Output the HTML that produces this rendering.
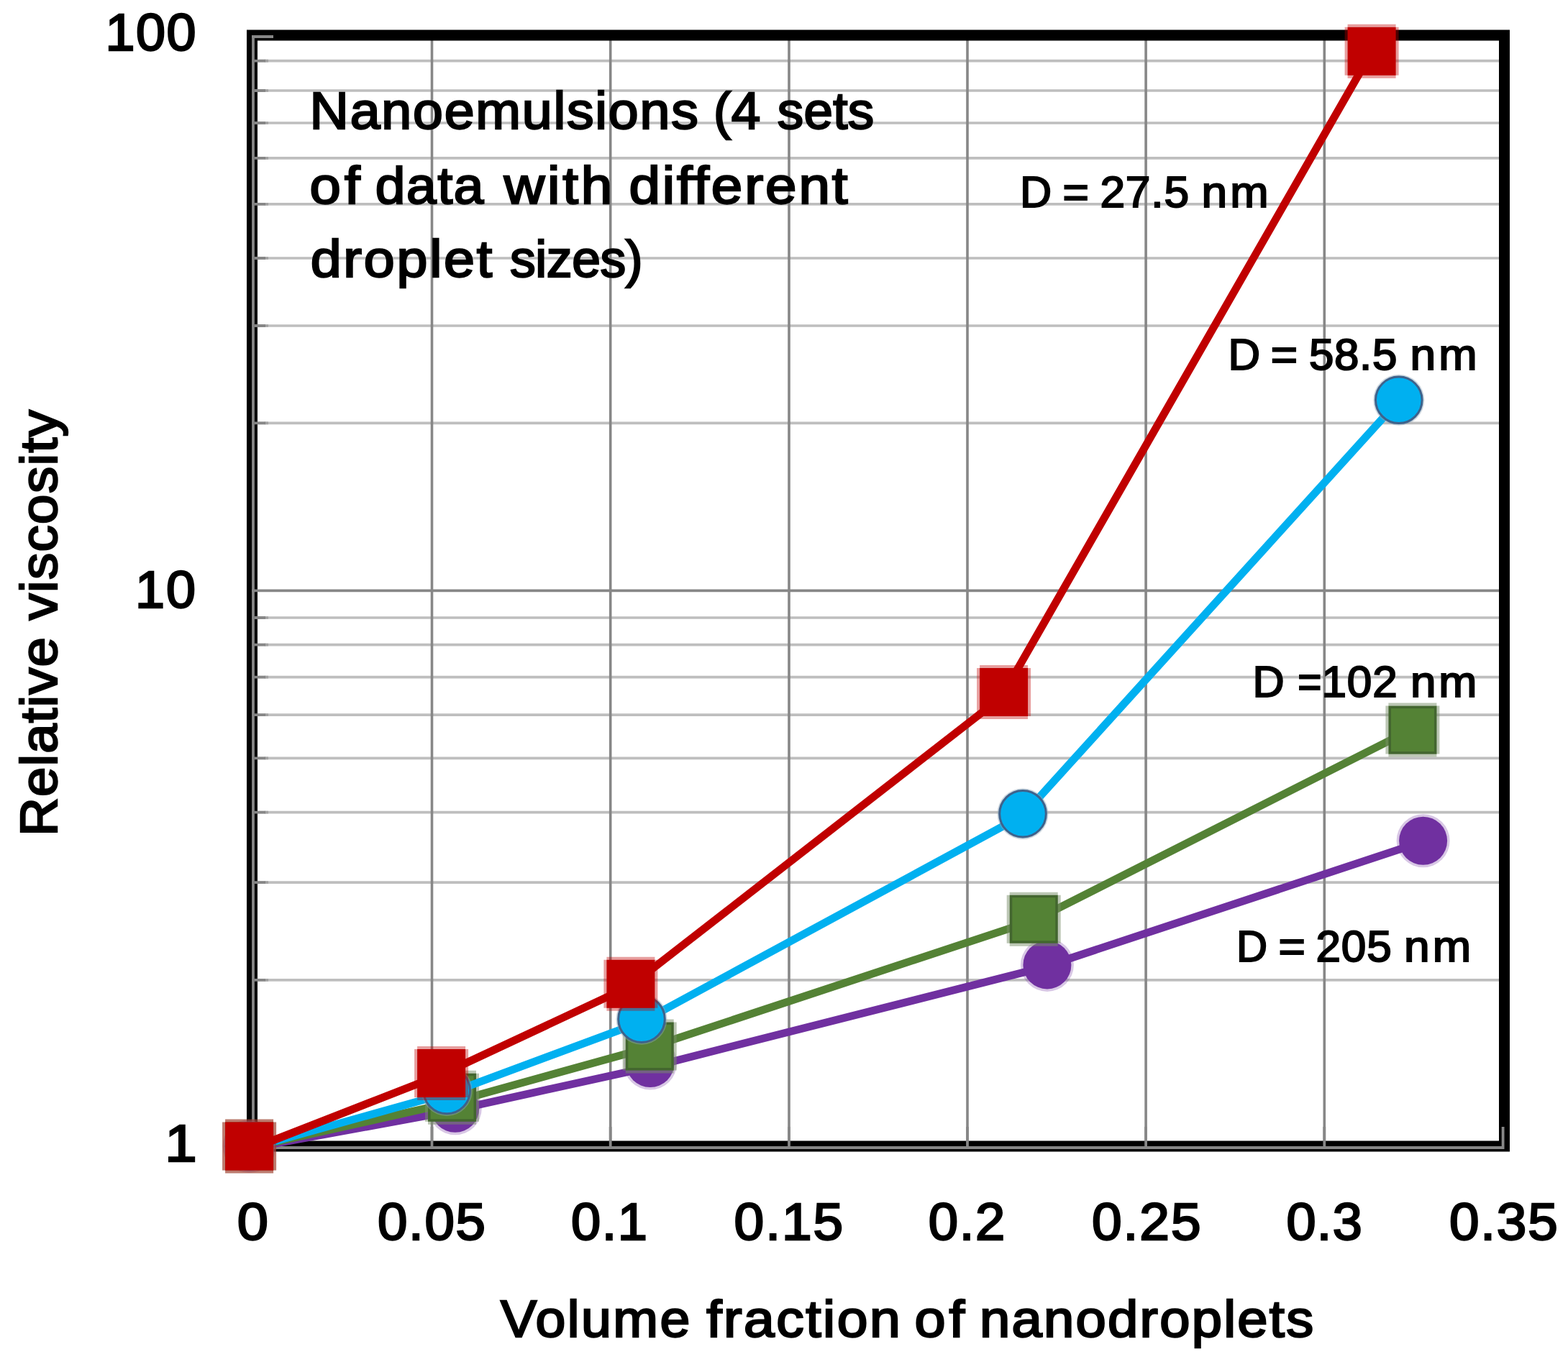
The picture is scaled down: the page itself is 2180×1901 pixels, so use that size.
<!DOCTYPE html><html><head><meta charset="utf-8"><title>Relative viscosity of nanoemulsions</title>
<style>html,body{margin:0;padding:0;background:#fff}svg{display:block}text{font-family:"Liberation Sans",Arial,sans-serif;font-weight:normal;fill:#000;stroke:#000}</style></head><body>
<svg width="2180" height="1901" viewBox="0 0 2180 1901">
<rect width="2180" height="1901" fill="#fff"/>
<path d="M358 84.7H2084 M358 126.0H2084 M358 171.0H2084 M358 219.9H2084 M358 283.8H2084 M358 359.0H2084 M358 453.0H2084 M358 588.3H2084 M358 859.0H2084 M358 896.6H2084 M358 941.7H2084 M358 994.1H2084 M358 1054.4H2084 M358 1129.7H2084 M358 1227.2H2084 M358 1362.8H2084" stroke="#BEBEBE" stroke-width="3.7" fill="none"/>
<path d="M358 821.4H2084 M600.5 56V1594 M848.7 56V1594 M1097.0 56V1594 M1345.0 56V1594 M1593.1 56V1594 M1841.3 56V1594" stroke="#878787" stroke-width="3.6" fill="none"/>
<rect x="350.5" y="49" width="1741" height="1545" fill="none" stroke="#000" stroke-width="15"/>
<path d="M368 84.7H373 M368 126.0H373 M368 171.0H373 M368 219.9H373 M368 283.8H373 M368 359.0H373 M368 453.0H373 M368 588.3H373 M368 859.0H373 M368 896.6H373 M368 941.7H373 M368 994.1H373 M368 1054.4H373 M368 1129.7H373 M368 1227.2H373 M368 1362.8H373" stroke="#A2A2A2" stroke-width="3.7" fill="none"/>
<path d="M352 49V1598 M350 1596H2091.5 M350 51H380 M350 821.4H358 M354 84.7H369 M354 126.0H369 M354 171.0H369 M354 219.9H369 M354 283.8H369 M354 359.0H369 M354 453.0H369 M354 588.3H369 M354 859.0H369 M354 896.6H369 M354 941.7H369 M354 994.1H369 M354 1054.4H369 M354 1129.7H369 M354 1227.2H369 M354 1362.8H369 M600.5 1567V1596 M848.7 1567V1596 M1097.0 1567V1596 M1345.0 1567V1596 M1593.1 1567V1596 M1841.3 1567V1596 M2089.6 1567V1596" stroke="#878787" stroke-width="3.8" fill="none"/>
<path d="M347.1 1596.7 L611.2 1548.3 L912.2 1481.9 L1447.5 1346.0 L1978.9 1170.1" stroke="#7030A0" stroke-width="10.8" fill="none" stroke-linejoin="round" stroke-linecap="round"/>
<circle cx="346.6" cy="1594.0" r="37" fill="#7030A0" fill-opacity=".27"/><circle cx="346.6" cy="1594.0" r="33.5" fill="#7030A0"/>
<circle cx="632.8" cy="1541.3" r="37" fill="#7030A0" fill-opacity=".27"/><circle cx="632.8" cy="1541.3" r="33.5" fill="#7030A0"/>
<circle cx="904.0" cy="1478.5" r="37" fill="#7030A0" fill-opacity=".27"/><circle cx="904.0" cy="1478.5" r="33.5" fill="#7030A0"/>
<circle cx="1455.9" cy="1341.9" r="37" fill="#7030A0" fill-opacity=".27"/><circle cx="1455.9" cy="1341.9" r="33.5" fill="#7030A0"/>
<circle cx="1978.6" cy="1169.2" r="37" fill="#7030A0" fill-opacity=".27"/><circle cx="1978.6" cy="1169.2" r="33.5" fill="#7030A0"/>
<path d="M347.1 1596.1 L621.3 1534.8 L905.9 1455.7 L1438.5 1279.6 L1963.4 1014.0" stroke="#548235" stroke-width="10.8" fill="none" stroke-linejoin="round" stroke-linecap="round"/>
<path d="M309.1 1560.5h75v67h-75z M313.1 1556.5h67v4h-67z M313.1 1627.5h67v4h-67z" fill="#7a8f6a" fill-opacity=".5"/><rect x="314.9" y="1562.2" width="63.5" height="63.5" fill="#548235" stroke="#43662f" stroke-width="3.5"/>
<path d="M591.0 1492.7h75v67h-75z M595.0 1488.7h67v4h-67z M595.0 1559.7h67v4h-67z" fill="#7a8f6a" fill-opacity=".5"/><rect x="596.8" y="1494.5" width="63.5" height="63.5" fill="#548235" stroke="#43662f" stroke-width="3.5"/>
<path d="M865.7 1421.6h75v67h-75z M869.7 1417.6h67v4h-67z M869.7 1488.6h67v4h-67z" fill="#7a8f6a" fill-opacity=".5"/><rect x="871.5" y="1423.3" width="63.5" height="63.5" fill="#548235" stroke="#43662f" stroke-width="3.5"/>
<path d="M1399.7 1244.8h75v67h-75z M1403.7 1240.8h67v4h-67z M1403.7 1311.8h67v4h-67z" fill="#7a8f6a" fill-opacity=".5"/><rect x="1405.5" y="1246.5" width="63.5" height="63.5" fill="#548235" stroke="#43662f" stroke-width="3.5"/>
<path d="M1926.4 981.6h75v67h-75z M1930.4 977.6h67v4h-67z M1930.4 1048.6h67v4h-67z" fill="#7a8f6a" fill-opacity=".5"/><rect x="1932.2" y="983.4" width="63.5" height="63.5" fill="#548235" stroke="#43662f" stroke-width="3.5"/>
<path d="M347.4 1596.9 L633.5 1517.0 L891.3 1421.4 L1421.7 1134.3 L1945.1 556.6" stroke="#00B0F0" stroke-width="10.8" fill="none" stroke-linejoin="round" stroke-linecap="round"/>
<circle cx="346.6" cy="1594.0" r="35.5" fill="#8fa3b5" fill-opacity=".45"/><circle cx="346.6" cy="1594.0" r="32.3" fill="#00B0F0" stroke="#3e628b" stroke-width="3"/>
<circle cx="621.2" cy="1516.4" r="35.5" fill="#8fa3b5" fill-opacity=".45"/><circle cx="621.2" cy="1516.4" r="32.3" fill="#00B0F0" stroke="#3e628b" stroke-width="3"/>
<circle cx="892.0" cy="1417.2" r="35.5" fill="#8fa3b5" fill-opacity=".45"/><circle cx="892.0" cy="1417.2" r="32.3" fill="#00B0F0" stroke="#3e628b" stroke-width="3"/>
<circle cx="1422.0" cy="1131.7" r="35.5" fill="#8fa3b5" fill-opacity=".45"/><circle cx="1422.0" cy="1131.7" r="32.3" fill="#00B0F0" stroke="#3e628b" stroke-width="3"/>
<circle cx="1944.8" cy="556.3" r="35.5" fill="#8fa3b5" fill-opacity=".45"/><circle cx="1944.8" cy="556.3" r="32.3" fill="#00B0F0" stroke="#3e628b" stroke-width="3"/>
<path d="M348.2 1598.1 L612.1 1495.0 L875.8 1371.6 L1392.0 970.0 L1907.5 71.5" stroke="#C00000" stroke-width="10.8" fill="none" stroke-linejoin="round" stroke-linecap="round"/>
<path d="M309.1 1560.5h75v67h-75z M313.1 1556.5h67v4h-67z M313.1 1627.5h67v4h-67z" fill="#C00000" fill-opacity=".38"/><rect x="313.1" y="1560.5" width="67" height="67" fill="#C00000"/>
<path d="M576.1 1459.0h75v67h-75z M580.1 1455.0h67v4h-67z M580.1 1526.0h67v4h-67z" fill="#C00000" fill-opacity=".38"/><rect x="580.1" y="1459.0" width="67" height="67" fill="#C00000"/>
<path d="M839.4 1334.8h75v67h-75z M843.4 1330.8h67v4h-67z M843.4 1401.8h67v4h-67z" fill="#C00000" fill-opacity=".38"/><rect x="843.4" y="1334.8" width="67" height="67" fill="#C00000"/>
<path d="M1358.1 929.0h75v67h-75z M1362.1 925.0h67v4h-67z M1362.1 996.0h67v4h-67z" fill="#C00000" fill-opacity=".38"/><rect x="1362.1" y="929.0" width="67" height="67" fill="#C00000"/>
<path d="M1869.6 37.8h75v67h-75z M1873.6 33.8h67v4h-67z M1873.6 104.8h67v4h-67z" fill="#C00000" fill-opacity=".38"/><rect x="1873.6" y="37.8" width="67" height="67" fill="#C00000"/>
<text transform="translate(146.5 70.3) scale(1.0253 1)" font-size="71.92" stroke-width="2.45" textLength="122.9">100</text>
<text transform="translate(188.1 844.5) scale(1.0255 1)" font-size="71.92" stroke-width="2.45" textLength="81.9">10</text>
<text x="229.3" y="1615.3" font-size="71.92" stroke-width="2.45" textLength="44.5" lengthAdjust="spacingAndGlyphs">1</text>
<text x="329.7" y="1724.1" font-size="71.92" stroke-width="2.45" textLength="43.2" lengthAdjust="spacingAndGlyphs">0</text>
<text transform="translate(525.0 1724.1) scale(1.0354 1)" font-size="71.92" stroke-width="2.45" textLength="144.8">0.05</text>
<text transform="translate(794.1 1724.1) scale(1.0298 1)" font-size="71.92" stroke-width="2.45" textLength="102.8">0.1</text>
<text transform="translate(1020.6 1724.1) scale(1.0414 1)" font-size="71.92" stroke-width="2.45" textLength="145.6">0.15</text>
<text transform="translate(1290.8 1724.1) scale(1.0328 1)" font-size="71.92" stroke-width="2.45" textLength="103.1">0.2</text>
<text transform="translate(1518.0 1724.1) scale(1.0411 1)" font-size="71.92" stroke-width="2.45" textLength="145.6">0.25</text>
<text transform="translate(1788.4 1724.1) scale(1.0268 1)" font-size="71.92" stroke-width="2.45" textLength="102.6">0.3</text>
<text transform="translate(2015.0 1724.1) scale(1.0379 1)" font-size="71.92" stroke-width="2.45" textLength="145.2">0.35</text>
<text transform="translate(430.6 179.1) scale(1.0422 1)" font-size="72.19" stroke-width="2.45" textLength="518.3">Nanoemulsions</text>
<text transform="translate(992.0 179.1) scale(1.0090 1)" font-size="72.19" stroke-width="2.45" textLength="64.7">(4</text>
<text transform="translate(1080.8 179.1) scale(1.0077 1)" font-size="72.19" stroke-width="2.45" textLength="133.4">sets</text>
<text transform="translate(430.5 282.8) scale(1.0796 1)" font-size="72.19" stroke-width="2.45" textLength="64.9">of</text>
<text transform="translate(521.8 282.8) scale(1.0355 1)" font-size="72.19" stroke-width="2.45" textLength="145.5">data</text>
<text transform="translate(700.7 282.8) scale(1.0838 1)" font-size="72.19" stroke-width="2.45" textLength="139.0">with</text>
<text transform="translate(874.4 282.8) scale(1.0827 1)" font-size="72.19" stroke-width="2.45" textLength="280.9">different</text>
<text transform="translate(431.7 385.0) scale(1.0697 1)" font-size="72.19" stroke-width="2.45" textLength="236.0">droplet</text>
<text transform="translate(709.0 385.0) scale(0.9896 1)" font-size="72.19" stroke-width="2.45" textLength="186.6">sizes)</text>
<text transform="translate(696.1 1859.1) scale(1.0475 1)" font-size="71.92" stroke-width="2.45" textLength="251.3">Volume</text>
<text transform="translate(982.2 1859.1) scale(1.0695 1)" font-size="71.92" stroke-width="2.45" textLength="252.0">fraction</text>
<text transform="translate(1271.5 1859.1) scale(1.0785 1)" font-size="71.92" stroke-width="2.45" textLength="64.6">of</text>
<text transform="translate(1362.0 1859.1) scale(1.0569 1)" font-size="71.92" stroke-width="2.45" textLength="439.2">nanodroplets</text>
<text x="1417.9" y="288.2" font-size="60.96" stroke-width="2.07" textLength="44.1" lengthAdjust="spacingAndGlyphs">D</text>
<text x="1477.6" y="288.2" font-size="60.96" stroke-width="2.07" textLength="36.4" lengthAdjust="spacingAndGlyphs">=</text>
<text transform="translate(1529.4 288.2) scale(1.0214 1)" font-size="60.96" stroke-width="2.07" textLength="121.1">27.5</text>
<text transform="translate(1670.5 288.2) scale(1.0512 1)" font-size="60.96" stroke-width="2.07" textLength="88.7">nm</text>
<text x="1707.5" y="513.5" font-size="60.96" stroke-width="2.07" textLength="44.6" lengthAdjust="spacingAndGlyphs">D</text>
<text x="1766.7" y="513.5" font-size="60.96" stroke-width="2.07" textLength="37.4" lengthAdjust="spacingAndGlyphs">=</text>
<text transform="translate(1820.1 513.5) scale(1.0149 1)" font-size="60.96" stroke-width="2.07" textLength="120.4">58.5</text>
<text transform="translate(1960.5 513.5) scale(1.0512 1)" font-size="60.96" stroke-width="2.07" textLength="88.7">nm</text>
<text x="1741.6" y="968.5" font-size="60.96" stroke-width="2.07" textLength="44.1" lengthAdjust="spacingAndGlyphs">D</text>
<text x="1804.3" y="968.5" font-size="60.96" stroke-width="2.07" textLength="33.2" lengthAdjust="spacingAndGlyphs">=</text>
<text transform="translate(1837.4 968.5) scale(1.0184 1)" font-size="60.96" stroke-width="2.07" textLength="103.5">102</text>
<text transform="translate(1960.9 968.5) scale(1.0458 1)" font-size="60.96" stroke-width="2.07" textLength="88.3">nm</text>
<text x="1718.9" y="1337.2" font-size="60.96" stroke-width="2.07" textLength="43.1" lengthAdjust="spacingAndGlyphs">D</text>
<text x="1777.6" y="1337.2" font-size="60.96" stroke-width="2.07" textLength="37.4" lengthAdjust="spacingAndGlyphs">=</text>
<text transform="translate(1829.4 1337.2) scale(1.0180 1)" font-size="60.96" stroke-width="2.07" textLength="103.5">205</text>
<text transform="translate(1952.0 1337.2) scale(1.0512 1)" font-size="60.96" stroke-width="2.07" textLength="88.7">nm</text>
<g transform="rotate(-90)"><text transform="translate(-1162.8 78.6) scale(1.0324 1)" font-size="71.92" stroke-width="2.45" textLength="268.0">Relative</text>
<text transform="translate(-862.6 78.6) scale(1.0371 1)" font-size="71.92" stroke-width="2.45" textLength="281.9">viscosity</text></g>
</svg></body></html>
